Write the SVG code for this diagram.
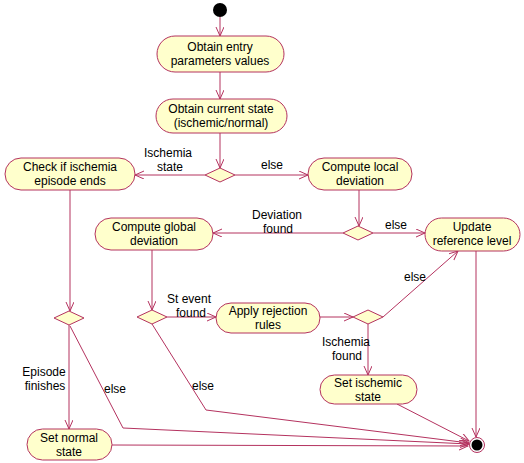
<svg xmlns="http://www.w3.org/2000/svg" width="524" height="463" viewBox="0 0 524 463">
<defs>
<marker id="arr" markerWidth="10" markerHeight="10" refX="9" refY="4" orient="auto" markerUnits="userSpaceOnUse">
<path d="M0,0 L9,4 L0,8" fill="none" stroke="#b4325f" stroke-width="1"/>
</marker>
<style>
.n{fill:#ffffcc;stroke:#b4325f;stroke-width:1}
.d{fill:#ffffcc;stroke:#b4325f;stroke-width:1}
.c{fill:none;stroke:#b4325f;stroke-width:1;marker-end:url(#arr)}
text{font-family:"Liberation Sans",Arial,sans-serif;font-size:12px;fill:#000;text-anchor:middle}
</style>
</defs>
<rect width="524" height="463" fill="#fff"/>
<g id="connectors">
<line class="c" x1="220" y1="17" x2="220" y2="36"/>
<line class="c" x1="220" y1="72" x2="220" y2="99"/>
<line class="c" x1="220" y1="133" x2="220" y2="168"/>
<line class="c" x1="205" y1="175" x2="135" y2="175"/>
<line class="c" x1="235" y1="175" x2="308" y2="175"/>
<line class="c" x1="359" y1="190" x2="359" y2="226"/>
<line class="c" x1="373" y1="233" x2="425" y2="233"/>
<line class="c" x1="343" y1="233" x2="213" y2="233"/>
<line class="c" x1="152" y1="250" x2="152" y2="310"/>
<line class="c" x1="167" y1="317" x2="216" y2="317"/>
<line class="c" x1="320" y1="317" x2="353" y2="317"/>
<line class="c" x1="383" y1="317" x2="458" y2="251"/>
<line class="c" x1="368" y1="324" x2="368" y2="375"/>
<line class="c" x1="397" y1="404" x2="469" y2="441"/>
<line class="c" x1="476" y1="251" x2="476" y2="437"/>
<line class="c" x1="70" y1="190" x2="70" y2="311"/>
<line class="c" x1="69" y1="325" x2="69" y2="429"/>
<polyline class="c" points="70,326 123,428 469,444"/>
<polyline class="c" points="152,324 206,410 469,443"/>
<line class="c" x1="112" y1="445" x2="468" y2="446"/>
<text x="168" y="157">Ischemia</text>
<text x="170" y="171">state</text>
<text x="272" y="169">else</text>
<text x="277" y="219">Deviation</text>
<text x="278" y="233">found</text>
<text x="396" y="229">else</text>
<text x="189" y="303">St event</text>
<text x="191" y="317">found</text>
<text x="415" y="281">else</text>
<text x="346" y="346">Ischemia</text>
<text x="347" y="360">found</text>
<text x="44" y="376">Episode</text>
<text x="45" y="390">finishes</text>
<text x="115" y="393">else</text>
<text x="203" y="390">else</text>
</g>
<g id="start"><circle cx="220" cy="10" r="7" fill="#000"/></g>
<g id="obtain-entry"><rect class="n" x="157" y="36" width="127" height="36" rx="18"/><text x="220" y="51">Obtain entry</text><text x="220" y="65">parameters values</text></g>
<g id="obtain-state"><rect class="n" x="156" y="99" width="131" height="34" rx="17"/><text x="221" y="113">Obtain current state</text><text x="221" y="127">(ischemic/normal)</text></g>
<g id="d1"><polygon class="d" points="205,175 220,168 235,175 220,182"/></g>
<g id="check-episode"><rect class="n" x="5" y="158" width="130" height="32" rx="16"/><text x="70" y="171">Check if ischemia</text><text x="70" y="185">episode ends</text></g>
<g id="compute-local"><rect class="n" x="308" y="158" width="104" height="32" rx="16"/><text x="360" y="171">Compute local</text><text x="360" y="185">deviation</text></g>
<g id="d2"><polygon class="d" points="343,233 358,226 373,233 358,240"/></g>
<g id="update-ref"><rect class="n" x="425" y="218" width="95" height="33" rx="16.5"/><text x="472" y="231">Update</text><text x="472" y="245">reference level</text></g>
<g id="compute-global"><rect class="n" x="95" y="218" width="118" height="32" rx="16"/><text x="154" y="231">Compute global</text><text x="154" y="245">deviation</text></g>
<g id="d3"><polygon class="d" points="137,317 152,310 167,317 152,324"/></g>
<g id="apply-rules"><rect class="n" x="216" y="303" width="104" height="30" rx="15"/><text x="268" y="315">Apply rejection</text><text x="268" y="329">rules</text></g>
<g id="d4"><polygon class="d" points="353,317 368,310 383,317 368,324"/></g>
<g id="set-ischemic"><rect class="n" x="320" y="375" width="97" height="29" rx="14.5"/><text x="368" y="387">Set ischemic</text><text x="368" y="401">state</text></g>
<g id="d5"><polygon class="d" points="54,318 69,311 84,318 69,325"/></g>
<g id="set-normal"><rect class="n" x="27" y="429" width="85" height="31" rx="15.5"/><text x="69" y="442">Set normal</text><text x="69" y="456">state</text></g>
<g id="final"><circle cx="477" cy="445" r="7.5" fill="#fff" stroke="#b4325f" stroke-width="1"/><circle cx="477" cy="445" r="5.5" fill="#000"/></g>
</svg>
